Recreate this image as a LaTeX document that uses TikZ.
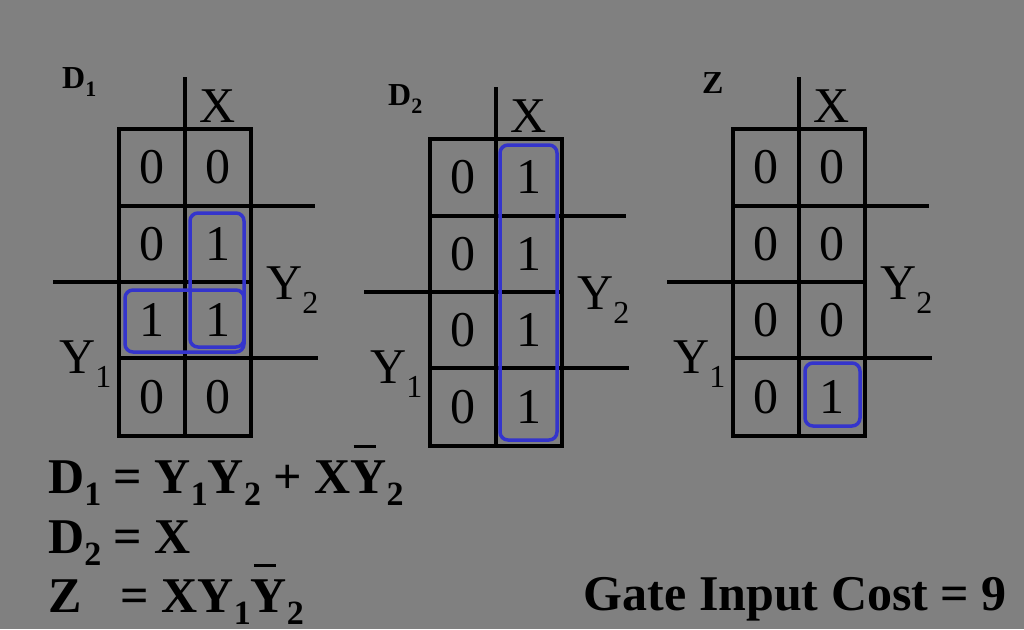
\documentclass[tikz,border=0pt]{standalone}
\usepackage{fontspec}
\setmainfont{Liberation Serif}

\definecolor{kgray}{RGB}{128,128,128}
\definecolor{kblue}{RGB}{52,52,204}

\tikzset{
  kline/.style={line width=3.5pt,draw=black},
  kloop/.style={line width=3.5pt,draw=kblue,rounded corners=8pt},
  kcell/.style={font=\fontsize{50}{50}\selectfont,inner sep=0pt},
  klabel/.style={font=\fontsize{50}{50}\selectfont,inner sep=0pt,anchor=base west},
  kname/.style={font=\fontsize{32}{32}\selectfont\bfseries,inner sep=0pt,anchor=base west},
  keqn/.style={font=\fontsize{50}{50}\selectfont\bfseries,inner sep=0pt,anchor=base west}
}

% subscript: size, drop, text
\newcommand\ksub[3]{\raisebox{-#2}{\fontsize{#1}{#1}\selectfont #3}}
\newcommand\barY{\rlap{\hspace{0.06em}\rule[0.9em]{0.44em}{0.07em}}Y}

% grid of one map, with X, Y1, Y2 (#1 = prefix of node names)
\newcommand\kgrid[1]{
  \draw[kline] (0,0) rectangle (132,307);
  \draw[kline] (66,-52) -- (66,307);
  \foreach \r in {77,153,229} \draw[kline] (0,\r) -- (132,\r);
  \draw[kline] (132,77) -- (196,77);
  \draw[kline] (-66,153) -- (0,153);
  \draw[kline] (132,229) -- (199,229);
  \node[klabel,anchor=base] (#1-x) at (99,-7) {X};
  \node[klabel] (#1-y2) at (147,170) {Y\ksub{32}{14pt}{2}};
  \node[klabel] (#1-y1) at (-60,244) {Y\ksub{32}{14pt}{1}};
}

\begin{document}
\begin{tikzpicture}[x=1pt,y=-1pt]
  \fill[kgray] (0,0) rectangle (1024,629);
  \useasboundingbox (0,0) rectangle (1024,629);

  % D1
  \begin{scope}[shift={(119,129)}]
    \kgrid{d1}
    \node[kname] (d1-name) at (-57,-41) {D\ksub{22}{8pt}{1}};
    \foreach \yc/\a/\b [count=\i] in {38/0/0,115/0/1,191/1/1,268/0/0} {
      \node[kcell] (d1-\i-a) at (33,\yc) {\a};
      \node[kcell] (d1-\i-b) at (99,\yc) {\b};
    }
    \draw[kloop] (71,84) rectangle (125,218);
    \draw[kloop] (6,161) rectangle (125,223);
  \end{scope}

  % D2
  \begin{scope}[shift={(430,139)}]
    \kgrid{d2}
    \node[kname] (d2-name) at (-42,-34) {D\ksub{22}{8pt}{2}};
    \foreach \yc/\a/\b [count=\i] in {38/0/1,115/0/1,191/0/1,268/0/1} {
      \node[kcell] (d2-\i-a) at (33,\yc) {\a};
      \node[kcell] (d2-\i-b) at (99,\yc) {\b};
    }
    \draw[kloop] (70,6) rectangle (127,301);
  \end{scope}

  % Z
  \begin{scope}[shift={(733,129)}]
    \kgrid{z}
    \node[kname] (z-name) at (-31,-36) {Z};
    \foreach \yc/\a/\b [count=\i] in {38/0/0,115/0/0,191/0/0,268/0/1} {
      \node[kcell] (z-\i-a) at (33,\yc) {\a};
      \node[kcell] (z-\i-b) at (99,\yc) {\b};
    }
    \draw[kloop] (72,234) rectangle (127,297);
  \end{scope}

  % equations
  \node[keqn] (eq1) at (48,493) {D\ksub{34}{12pt}{1} = Y\ksub{34}{12pt}{1}Y\ksub{34}{12pt}{2} + X\barY\ksub{34}{12pt}{2}};
  \node[keqn] (eq2) at (48,553) {D\ksub{34}{12pt}{2} = X};
  \node[keqn] (eq3) at (48,612) {Z\hspace{39pt}= XY\ksub{34}{12pt}{1}\barY\ksub{34}{12pt}{2}};
  \node[keqn,anchor=base east] (cost) at (1007,610) {Gate Input Cost = 9};
\end{tikzpicture}
\end{document}
